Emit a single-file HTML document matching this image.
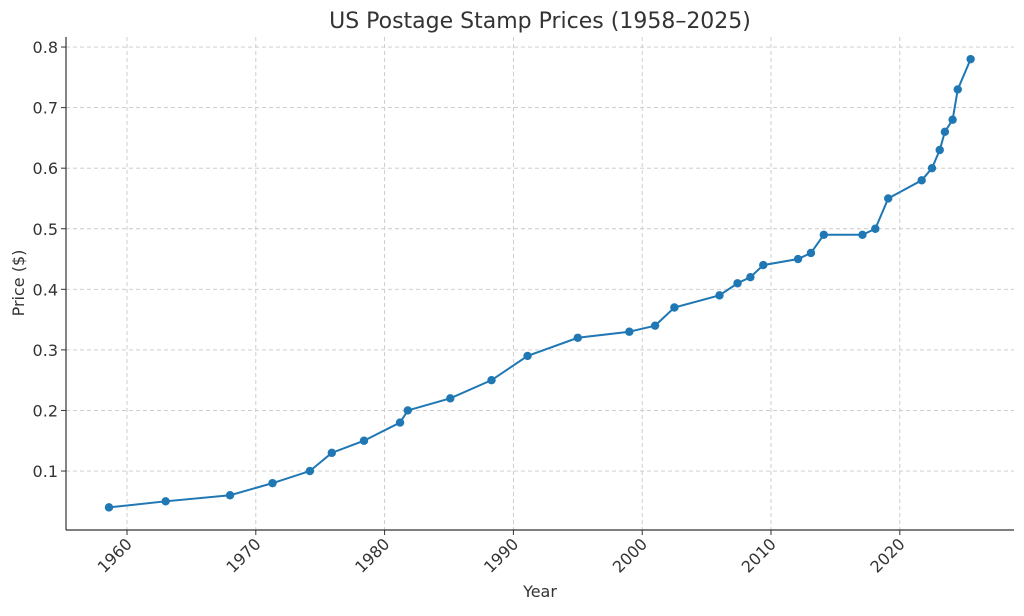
<!DOCTYPE html>
<html><head><meta charset="utf-8"><style>
body{margin:0;background:#fff;}
svg text{font-family:"DejaVu Sans","Liberation Sans",sans-serif;fill:#333;}
</style></head><body>
<svg id="chart" width="1024" height="611" xmlns="http://www.w3.org/2000/svg">
<text x="540" y="28" font-size="22" text-anchor="middle">US Postage Stamp Prices (1958–2025)</text>
<g id="grid"></g>
<g id="axes"></g>
<g id="series"></g>
<text x="540" y="597" font-size="16" text-anchor="middle">Year</text>
<text x="24" y="283" font-size="16" text-anchor="middle" transform="rotate(-90 24 283)">Price ($)</text>
</svg>
<script>
const years=[1958.6,1963.0,1968.0,1971.3,1974.2,1975.9,1978.4,1981.2,1981.8,1985.1,1988.3,1991.1,1995.0,1999.0,2001.0,2002.5,2006.0,2007.4,2008.4,2009.4,2012.1,2013.1,2014.1,2017.1,2018.1,2019.1,2021.7,2022.5,2023.1,2023.5,2024.1,2024.5,2025.5];
const prices=[.04,.05,.06,.08,.10,.13,.15,.18,.20,.22,.25,.29,.32,.33,.34,.37,.39,.41,.42,.44,.45,.46,.49,.49,.50,.55,.58,.60,.63,.66,.68,.73,.78];
const xTicks=[1960,1970,1980,1990,2000,2010,2020];
const yTicks=[0.1,0.2,0.3,0.4,0.5,0.6,0.7,0.8];
const L=66,R=1014,T=37,B=530;
const X=v=>127+(v-1960)*12.88;
const Y=v=>531.6-v*605.7;
const NS='http://www.w3.org/2000/svg';
function mk(parent,tag,attrs){const e=document.createElementNS(NS,tag);for(const k in attrs)e.setAttribute(k,attrs[k]);parent.appendChild(e);return e;}
const grid=document.getElementById('grid'),axes=document.getElementById('axes'),series=document.getElementById('series');
xTicks.forEach(t=>{
 const g=mk(grid,'line',{x1:X(t),x2:X(t),y1:T,y2:B,stroke:'#c8c8c8','stroke-dasharray':'4,3','stroke-width':0.9});
 
 
 mk(axes,'line',{x1:X(t),x2:X(t),y1:B,y2:B+5,stroke:'#333'});
 const tx=mk(axes,'text',{x:X(t)+6,y:B+15,'font-size':16,'text-anchor':'end',transform:`rotate(-45 ${X(t)+6} ${B+15})`});
 tx.textContent=t;
 
 
});
yTicks.forEach(t=>{
 const g=mk(grid,'line',{x1:L,x2:R,y1:Y(t),y2:Y(t),stroke:'#c8c8c8','stroke-dasharray':'4,3','stroke-width':0.9});
 
 
 mk(axes,'line',{x1:L-5,x2:L,y1:Y(t),y2:Y(t),stroke:'#333'});
 const tx=mk(axes,'text',{x:L-8,y:Y(t)+6,'font-size':16,'text-anchor':'end'});
 tx.textContent=t.toFixed(1);
 
 
});
mk(axes,'line',{x1:L,x2:L,y1:T,y2:B,stroke:'#333','stroke-width':1.2});
mk(axes,'line',{x1:L,x2:R,y1:B,y2:B,stroke:'#333','stroke-width':1.2});
const pl=mk(series,'polyline',{points:years.map((y,i)=>X(y)+','+Y(prices[i])).join(' '),fill:'none',stroke:'#1f77b4','stroke-width':2});


years.forEach((y,i)=>{
 const c=mk(series,'circle',{cx:X(y),cy:Y(prices[i]),r:4.2,fill:'#1f77b4'});
 
 
});
</script>
</body></html>
